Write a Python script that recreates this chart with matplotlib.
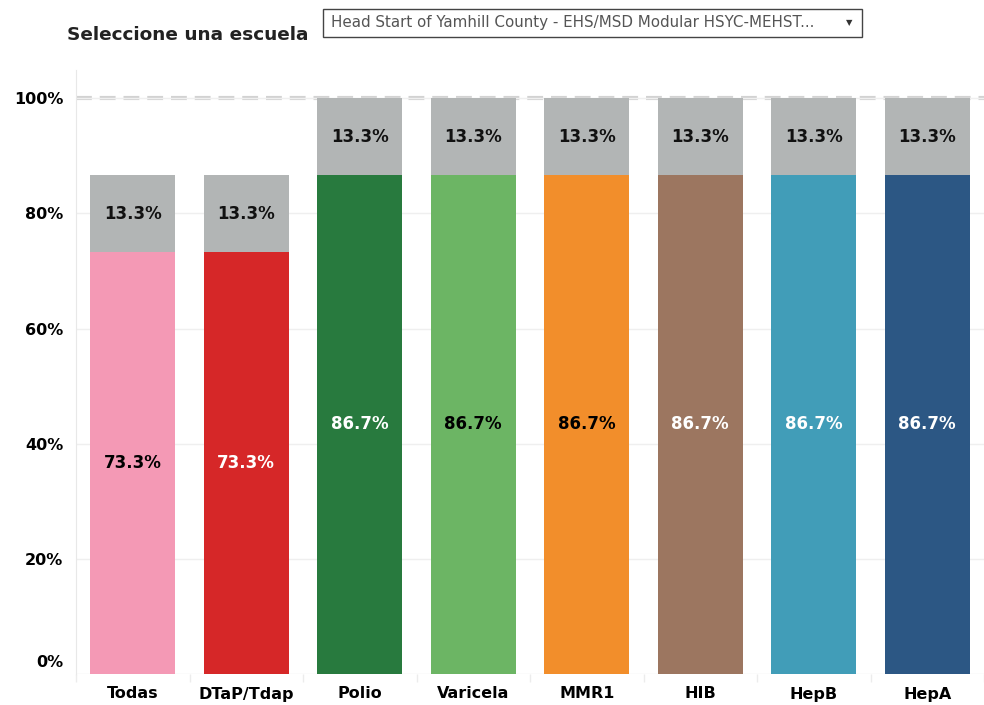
import matplotlib.pyplot as plt
import matplotlib.transforms as mtransforms
from matplotlib.patches import Rectangle

# data
categories = ["Todas", "DTaP/Tdap", "Polio", "Varicela", "MMR1", "HIB", "HepB", "HepA"]
vacunados = [73.3, 73.3, 86.7, 86.7, 86.7, 86.7, 86.7, 86.7]
no_vacunados = [13.3, 13.3, 13.3, 13.3, 13.3, 13.3, 13.3, 13.3]
bar_colors = ["#f499b5", "#d62728", "#287a3e", "#6cb564", "#f28e2b",
              "#9c7660", "#419db8", "#2c5784"]
label_colors = ["black", "white", "white", "black", "black", "white", "white", "white"]
y_ticks = [0, 20, 40, 60, 80, 100]
y_ticklabels = ["0%", "20%", "40%", "60%", "80%", "100%"]
escuela = "Head Start of Yamhill County - EHS/MSD Modular HSYC-MEHST..."

plt.rcParams['font.family'] = ['DejaVu Sans']

fig = plt.figure(figsize=(9.84, 7.05), dpi=100)
ax = fig.add_axes([76 / 984, 31 / 705, 1 - 76 / 984, 604 / 705])

x = list(range(len(categories)))
ax.bar(x, vacunados, width=0.75, color=bar_colors, zorder=2)
ax.bar(x, no_vacunados, width=0.75, bottom=vacunados, color="#b2b5b5", zorder=2)

for i in x:
    ax.text(i, vacunados[i] / 2, f"{vacunados[i]:.1f}%", ha="center", va="center",
            fontsize=12, fontweight="bold", color=label_colors[i], zorder=3)
    ax.text(i, vacunados[i] + no_vacunados[i] / 2, f"{no_vacunados[i]:.1f}%",
            ha="center", va="center", fontsize=12, fontweight="bold",
            color="#111111", zorder=3)

# reference line at 100%
ax.axhline(100, color="#d2d2d2", lw=3, ls=(0, (3.8, 1.9)), zorder=1)

ax.set_xlim(-0.5, 7.37)
ax.set_ylim(0, 104.9)
ax.set_yticks(y_ticks)
ax.set_yticklabels(y_ticklabels, fontsize=11.5, fontweight="bold")
ax.set_xticks(x)
ax.set_xticklabels(categories, fontsize=11.5, fontweight="bold")
ax.tick_params(axis="both", length=0)
ax.tick_params(axis="y", pad=9)
ax.tick_params(axis="x", pad=9)
# Tableau lifts the 0% label a little
lbl0 = ax.get_yticklabels()[0]
lbl0.set_transform(lbl0.get_transform()
                   + mtransforms.ScaledTranslation(0, 13 / 100, fig.dpi_scale_trans))

ax.set_xticks([i + 0.5 for i in range(-1, 8)], minor=True)
ax.tick_params(axis="x", which="minor", length=6, color="#ececec", width=1)

ax.grid(axis="y", color="#efefef", lw=1, zorder=0)
for s in ["top", "right", "bottom"]:
    ax.spines[s].set_visible(False)
ax.spines["left"].set_color("#e8e8e8")

# header
fig.text(67 / 984, 1 - 35 / 705, "Seleccione una escuela", fontsize=13.3,
         fontweight="bold", va="center", ha="left", color="#222222")
fig.patches.append(Rectangle((323 / 984, 1 - 37 / 705), 539 / 984, 28 / 705,
                             transform=fig.transFigure, fill=False,
                             edgecolor="#444444", lw=1))
fig.text(331 / 984, 1 - 23 / 705, escuela, fontsize=10.9, va="center", ha="left",
         color="#555555")
fig.text(849 / 984, 1 - 23 / 705, "▼", fontsize=6, va="center", ha="center",
         color="#333333")

fig.savefig("out.png", dpi=100)
